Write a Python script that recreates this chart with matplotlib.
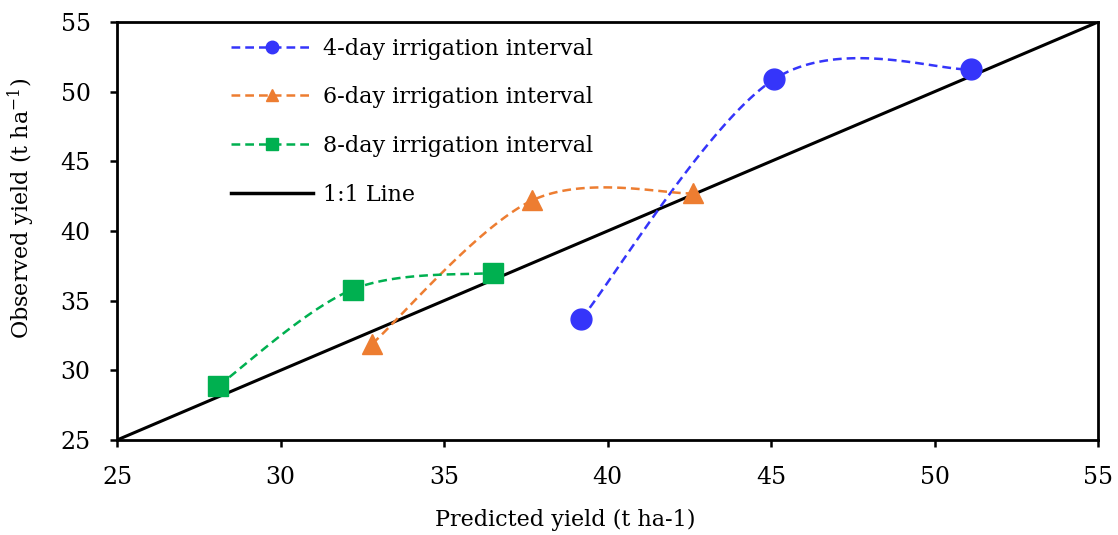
import numpy as np
import matplotlib
matplotlib.use("Agg")
import matplotlib.pyplot as plt
from matplotlib.lines import Line2D

plt.rcParams['font.family'] = ['DejaVu Serif']
plt.rcParams['mathtext.fontset'] = 'dejavuserif'

pred_4 = [39.2, 45.1, 51.1]
obs_4 = [33.7, 50.9, 51.6]
pred_6 = [32.8, 37.7, 42.6]
obs_6 = [31.9, 42.2, 42.7]
pred_8 = [28.1, 32.2, 36.5]
obs_8 = [28.9, 35.8, 37.0]
one_to_one = [25, 55]
labels = ["4-day irrigation interval", "6-day irrigation interval",
          "8-day irrigation interval", "1:1 Line"]
colors = ['#3535FA', '#ED7D31', '#00B050']
markers = ['o', '^', 's']


def excel_smooth(xs, ys, n=60):
    P = np.column_stack([xs, ys]).astype(float)
    m = len(P)
    out = [P[0]]
    for i in range(m - 1):
        p0 = P[i - 1] if i > 0 else P[i]
        p1 = P[i]
        p2 = P[i + 1]
        p3 = P[i + 2] if i + 2 < m else P[i + 1]
        c1 = p1 + (p2 - p0) / 6
        c2 = p2 - (p3 - p1) / 6
        t = np.linspace(0, 1, n)[1:, None]
        seg = ((1 - t) ** 3) * p1 + 3 * t * (1 - t) ** 2 * c1 + 3 * t ** 2 * (1 - t) * c2 + t ** 3 * p2
        out.extend(seg)
    out = np.array(out)
    return out[:, 0], out[:, 1]


fig = plt.figure(figsize=(11.18, 5.35), dpi=100)
ax = fig.add_axes([0.1047, 0.1776, 0.8775, 0.7813])

ax.plot(one_to_one, one_to_one, color='black', lw=2.2, zorder=2)

dash = (0, (3.5, 2))
series = [(pred_4, obs_4), (pred_6, obs_6), (pred_8, obs_8)]
msizes = [15, 15, 14]
for (xs, ys), c, mk, ms in zip(series, colors, markers, msizes):
    sx, sy = excel_smooth(xs, ys)
    ax.plot(sx, sy, color=c, lw=1.8, ls=dash, zorder=3)
    ax.plot(xs, ys, ls='none', marker=mk, color=c, ms=ms, zorder=4)

ax.set_xlim(25, 55)
ax.set_ylim(25, 55)
ax.set_xticks(range(25, 56, 5))
ax.set_yticks(range(25, 56, 5))
ax.tick_params(direction='out', length=5, width=1.8, labelsize=17, pad=14)
for s in ax.spines.values():
    s.set_linewidth(2)
ax.set_xlabel('Predicted yield (t ha-1)', fontsize=16, va='center')
ax.set_ylabel('Observed yield (t ha$^{-1}$)', fontsize=16, va='center')
ax.xaxis.set_label_coords(0.457, -0.191)
ax.yaxis.set_label_coords(-0.098, 0.553)

handles = [Line2D([], [], color=c, lw=1.8, ls=dash, marker=mk, ms=9)
           for c, mk in zip(colors, markers)]
handles.append(Line2D([], [], color='black', lw=2.5))
ax.legend(handles, labels, loc='upper left', bbox_to_anchor=(0.1, 1.0),
          frameon=False, fontsize=16, handlelength=3.7, labelspacing=1.2,
          handletextpad=0.45, borderaxespad=0.3)

fig.savefig('out.png', dpi=100)
